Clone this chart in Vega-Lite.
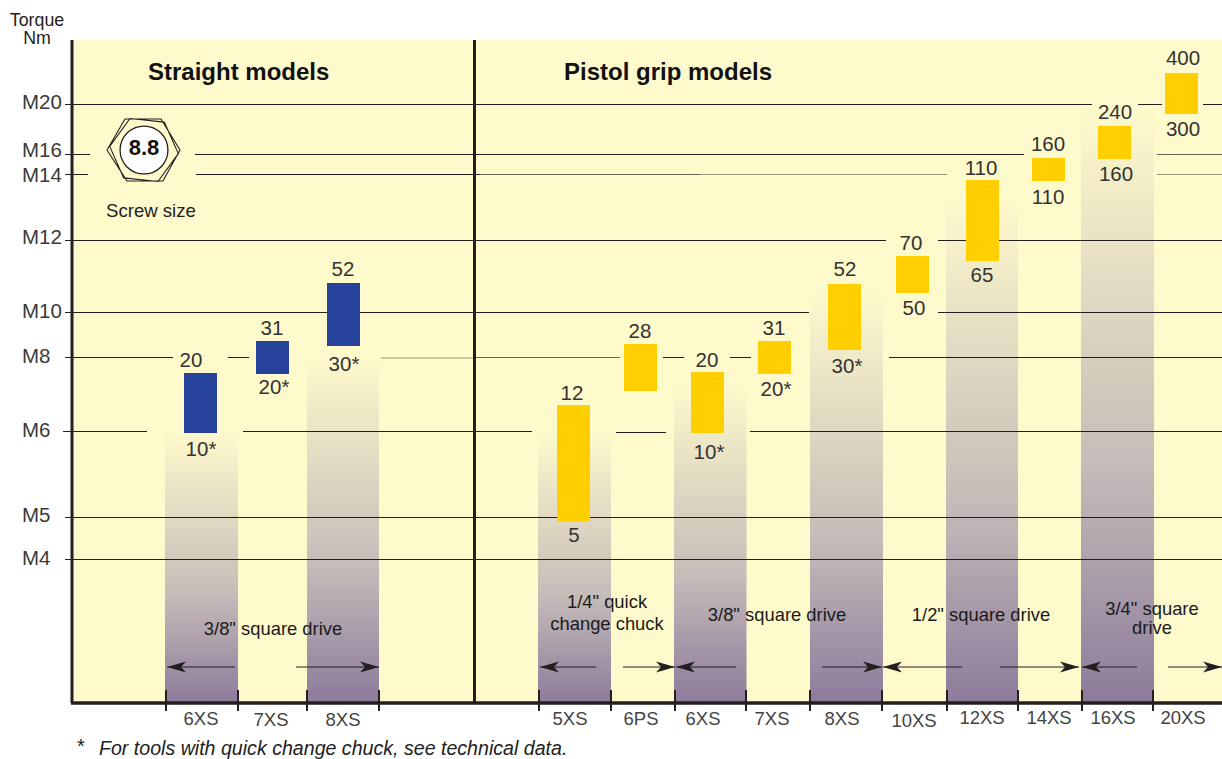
{
"$schema":"https://vega.github.io/schema/vega-lite/v6.json",
"width":1222,"height":759,"padding":0,"autosize":{"type":"none"},"background":"white",
"config":{"view":{"stroke":null},"text":{"font":"Liberation Sans"}},
"datasets":{
"panel":[{"x":73,"x2":1222,"y":0,"y2":663}],
"cols":[
{"tool":"6XS","x":165,"x2":238,"y":0,"y2":272},
{"tool":"8XS","x":307,"x2":379,"y":0,"y2":348},
{"tool":"5XS","x":538,"x2":611,"y":0,"y2":271},
{"tool":"6XS","x":674,"x2":746.5,"y":0,"y2":320},
{"tool":"8XS","x":810,"x2":883,"y":0,"y2":413},
{"tool":"12XS","x":946,"x2":1018,"y":0,"y2":508},
{"tool":"16XS","x":1081,"x2":1154,"y":0,"y2":596}],
"grid":[
{"size":"M20","tone":"dark","x":65,"x2":1092,"y":598.5},
{"size":"M20","tone":"dark","x":1138,"x2":1162,"y":598.5},
{"size":"M20","tone":"dark","x":1203,"x2":1222,"y":598.5},
{"size":"M16","tone":"dark","x":65,"x2":90,"y":548.5},
{"size":"M16","tone":"dark","x":195,"x2":1024,"y":548.5},
{"size":"M16","tone":"mid","x":1157,"x2":1222,"y":548.5},
{"size":"M14","tone":"dark","x":65,"x2":88,"y":528.5},
{"size":"M14","tone":"dark","x":196,"x2":480,"y":528.5},
{"size":"M14","tone":"mid","x":480,"x2":700,"y":528.5},
{"size":"M14","tone":"faded","x":700,"x2":947,"y":528.5},
{"size":"M14","tone":"faded","x":1157,"x2":1222,"y":528.5},
{"size":"M12","tone":"dark","x":65,"x2":886,"y":462.5},
{"size":"M12","tone":"dark","x":938,"x2":1222,"y":462.5},
{"size":"M10","tone":"dark","x":65,"x2":809,"y":390.5},
{"size":"M10","tone":"dark","x":938,"x2":1222,"y":390.5},
{"size":"M8","tone":"dark","x":65,"x2":173,"y":345.5},
{"size":"M8","tone":"dark","x":228,"x2":249,"y":345.5},
{"size":"M8","tone":"faded","x":381,"x2":474,"y":345},
{"size":"M8","tone":"mid","x":476,"x2":620,"y":345.5},
{"size":"M8","tone":"dark","x":663,"x2":684,"y":345.5},
{"size":"M8","tone":"dark","x":730,"x2":751,"y":345.5},
{"size":"M8","tone":"dark","x":889,"x2":1222,"y":345.5},
{"size":"M6","tone":"dark","x":63,"x2":147,"y":271.5},
{"size":"M6","tone":"dark","x":243,"x2":532,"y":271.5},
{"size":"M6","tone":"dark","x":616,"x2":666,"y":270.5},
{"size":"M6","tone":"dark","x":750,"x2":1222,"y":271.5},
{"size":"M5","tone":"dark","x":65,"x2":1222,"y":185.5},
{"size":"M4","tone":"dark","x":65,"x2":1222,"y":143.5}],
"frameV":[{"x":72,"y":0,"y2":663},{"x":474.5,"y":0,"y2":663}],
"frameH":[{"x":71,"x2":1222,"y":0}],
"seps":[{"x":166,"y":-8,"y2":13},{"x":238,"y":-8,"y2":13},{"x":307,"y":-8,"y2":13},{"x":379,"y":-8,"y2":13},{"x":539,"y":-8,"y2":13},{"x":611,"y":-8,"y2":13},{"x":675,"y":-8,"y2":13},{"x":746,"y":-8,"y2":13},{"x":810,"y":-8,"y2":13},{"x":882,"y":-8,"y2":13},{"x":947,"y":-8,"y2":13},{"x":1018,"y":-8,"y2":13},{"x":1082,"y":-8,"y2":13},{"x":1153,"y":-8,"y2":13}],
"bars":[
{"group":"Straight","tool":"6XS","x":184,"x2":217,"y":330,"y2":270},
{"group":"Straight","tool":"7XS","x":256,"x2":289,"y":362,"y2":329},
{"group":"Straight","tool":"8XS","x":327,"x2":360,"y":420,"y2":357},
{"group":"Pistol","tool":"5XS","x":557,"x2":590,"y":298,"y2":181.5},
{"group":"Pistol","tool":"6PS","x":624,"x2":657,"y":359,"y2":312},
{"group":"Pistol","tool":"6XS","x":691,"x2":724,"y":331,"y2":270},
{"group":"Pistol","tool":"7XS","x":758,"x2":791,"y":362,"y2":329},
{"group":"Pistol","tool":"8XS","x":828,"x2":861,"y":419,"y2":353},
{"group":"Pistol","tool":"10XS","x":896,"x2":929,"y":447,"y2":410},
{"group":"Pistol","tool":"12XS","x":966,"x2":999,"y":523,"y2":442},
{"group":"Pistol","tool":"14XS","x":1032,"x2":1065,"y":545,"y2":522},
{"group":"Pistol","tool":"16XS","x":1098,"x2":1131,"y":577,"y2":544},
{"group":"Pistol","tool":"20XS","x":1165,"x2":1198,"y":630,"y2":589}],
"values":[
{"t":"20","x":191,"y":343},{"t":"10*","x":201,"y":254},{"t":"31","x":272,"y":375},{"t":"20*","x":274,"y":316},{"t":"52","x":343,"y":434},{"t":"30*","x":344,"y":339},
{"t":"12","x":572,"y":310},{"t":"5","x":574,"y":168},{"t":"28","x":640,"y":372},{"t":"20","x":707,"y":343},{"t":"10*","x":709,"y":251},{"t":"31","x":774,"y":375},{"t":"20*","x":776,"y":314},{"t":"52","x":845,"y":434},{"t":"30*","x":847,"y":337},{"t":"70","x":911,"y":460},{"t":"50","x":914,"y":395},{"t":"110","x":981,"y":535},{"t":"65","x":982,"y":428},{"t":"160","x":1048,"y":559},{"t":"110","x":1048,"y":506},{"t":"240","x":1115,"y":591},{"t":"160","x":1116,"y":529},{"t":"400","x":1183,"y":645},{"t":"300","x":1183,"y":574}],
"sizes":[{"t":"M20","x":22,"y":600.5},{"t":"M16","x":22,"y":552},{"t":"M14","x":22,"y":527.5},{"t":"M12","x":22,"y":465},{"t":"M10","x":22,"y":391.5},{"t":"M8","x":22,"y":346},{"t":"M6","x":22,"y":272},{"t":"M5","x":22,"y":187.5},{"t":"M4","x":22,"y":144}],
"tools":[{"t":"6XS","x":201,"y":-16},{"t":"7XS","x":271,"y":-17},{"t":"8XS","x":343,"y":-17},{"t":"5XS","x":570,"y":-16},{"t":"6PS","x":641,"y":-16},{"t":"6XS","x":703,"y":-16},{"t":"7XS","x":772,"y":-16},{"t":"8XS","x":842,"y":-16},{"t":"10XS","x":914,"y":-18},{"t":"12XS","x":982,"y":-15},{"t":"14XS","x":1049,"y":-15},{"t":"16XS","x":1113,"y":-15},{"t":"20XS","x":1183,"y":-15}],
"drives":[{"t":"3/8\" square drive","x":273,"y":74},{"t":"3/8\" square drive","x":777,"y":88},{"t":"1/2\" square drive","x":981,"y":88},{"t":"1/4\" quick","x":607,"y":101},{"t":"change chuck","x":607,"y":79},{"t":"3/4\" square","x":1152,"y":94.5},{"t":"drive","x":1152,"y":75.5}],
"titles":[{"t":"Straight models","x":148,"y":631},{"t":"Pistol grip models","x":564,"y":631}],
"torque":[{"t":"Torque","x":37,"y":682.5},{"t":"Nm","x":37,"y":664.5}],
"arrows":[{"x":167,"x2":235,"y":36},{"x":296,"x2":379,"y":36},{"x":540,"x2":596,"y":36},{"x":623,"x2":675,"y":36},{"x":676,"x2":736,"y":36},{"x":822,"x2":882,"y":36},{"x":883,"x2":962,"y":36},{"x":1000,"x2":1079,"y":36},{"x":1082,"x2":1137,"y":36},{"x":1168,"x2":1222,"y":36}],
"heads":[{"dir":"left","x":167,"y":36},{"dir":"right","x":379,"y":36},{"dir":"left","x":540,"y":36},{"dir":"right","x":675,"y":36},{"dir":"left","x":676,"y":36},{"dir":"right","x":882,"y":36},{"dir":"left","x":883,"y":36},{"dir":"right","x":1079,"y":36},{"dir":"left","x":1082,"y":36},{"dir":"right","x":1222,"y":36}],
"bolt":[{"x":144,"y":553}],
"boltLabel":[{"t":"8.8","x":144,"y":555}],
"screw":[{"t":"Screw size","x":106,"y":492}],
"note":[{"t":"For tools with quick change chuck, see technical data.","x":99,"y":-45.5}],
"star":[{"t":"*","x":80,"y":-44}]
},
"encoding":{
"x":{"field":"x","type":"quantitative","axis":null,"scale":{"domain":[0,1222],"nice":false,"zero":false}},
"y":{"field":"y","type":"quantitative","axis":null,"scale":{"domain":[-56,703],"nice":false,"zero":false}}
},
"layer":[
{"data":{"name":"panel"},"mark":{"type":"rect","fill":"#FFFACC"},"encoding":{"x2":{"field":"x2"},"y2":{"field":"y2"}}},
{"data":{"name":"cols"},"mark":{"type":"rect","color":{"gradient":"linear","x1":0,"y1":0,"x2":0,"y2":1,"stops":[{"offset":0,"color":"#FFFACC"},{"offset":0.6,"color":"#C6BCB9"},{"offset":1,"color":"#8C7B9B"}]}},"encoding":{"x2":{"field":"x2"},"y2":{"field":"y2"}}},
{"data":{"name":"grid"},"mark":{"type":"rule"},"encoding":{"x2":{"field":"x2"},"color":{"field":"tone","type":"nominal","legend":null,"scale":{"domain":["dark","mid","faded"],"range":["#231F20","#6B6757","#9A9474"]}},"strokeWidth":{"field":"tone","type":"nominal","legend":null,"scale":{"domain":["dark","mid","faded"],"range":[1,1.2,1.6]}}}},
{"data":{"name":"frameV"},"mark":{"type":"rule","strokeWidth":3,"color":"#231F20"},"encoding":{"y2":{"field":"y2"}}},
{"data":{"name":"frameH"},"mark":{"type":"rule","strokeWidth":3.5,"color":"#231F20"},"encoding":{"x2":{"field":"x2"}}},
{"data":{"name":"seps"},"mark":{"type":"rule","strokeWidth":2,"color":"#231F20"},"encoding":{"y2":{"field":"y2"}}},
{"data":{"name":"bars"},"mark":{"type":"rect"},"encoding":{"x2":{"field":"x2"},"y2":{"field":"y2"},"fill":{"field":"group","type":"nominal","legend":null,"scale":{"domain":["Straight","Pistol"],"range":["#27429B","#FFCF01"]}}}},
{"data":{"name":"arrows"},"mark":{"type":"rule","strokeWidth":1,"color":"#231F20"},"encoding":{"x2":{"field":"x2"}}},
{"data":{"name":"heads"},"mark":{"type":"point","filled":true,"size":400,"opacity":1,"color":"#231F20"},"encoding":{"shape":{"field":"dir","type":"nominal","legend":null,"scale":{"domain":["left","right"],"range":["M0,0 L1.9,-0.55 L1.4,0 L1.9,0.55 Z","M0,0 L-1.9,-0.55 L-1.4,0 L-1.9,0.55 Z"]}}}},
{"data":{"name":"bolt"},"mark":{"type":"point","filled":false,"size":400,"opacity":1,"color":"#231F20","strokeWidth":1.1,"shape":"M-3.7,0 L-1.9,-3.1 L1.7,-3.1 L3.6,0 L1.9,3.1 L-1.7,3.1 Z M3.43,0.36 L1.4,3.15 L-2.03,2.79 L-3.43,-0.36 L-1.4,-3.15 L2.03,-2.79 Z"}},
{"data":{"name":"bolt"},"mark":{"type":"point","filled":true,"size":2290,"opacity":1,"shape":"circle","fill":"#FFFFFF","stroke":"#231F20","strokeWidth":1.3}},
{"data":{"name":"boltLabel"},"mark":{"type":"text","fontSize":22,"fontWeight":"bold","color":"#111111","align":"center","baseline":"middle"},"encoding":{"text":{"field":"t"}}},
{"data":{"name":"screw"},"mark":{"type":"text","fontSize":18.6,"color":"#222222","align":"left","baseline":"middle"},"encoding":{"text":{"field":"t"}}},
{"data":{"name":"values"},"mark":{"type":"text","fontSize":20.5,"dy":0.7,"color":"#333333","align":"center","baseline":"middle"},"encoding":{"text":{"field":"t"}}},
{"data":{"name":"sizes"},"mark":{"type":"text","fontSize":20.5,"color":"#3A3A3A","align":"left","baseline":"middle"},"encoding":{"text":{"field":"t"}}},
{"data":{"name":"tools"},"mark":{"type":"text","fontSize":18.5,"color":"#444444","align":"center","baseline":"middle"},"encoding":{"text":{"field":"t"}}},
{"data":{"name":"drives"},"mark":{"type":"text","fontSize":18.4,"color":"#1A1A1A","align":"center","baseline":"middle"},"encoding":{"text":{"field":"t"}}},
{"data":{"name":"titles"},"mark":{"type":"text","fontSize":24,"dy":1,"fontWeight":"bold","color":"#111111","align":"left","baseline":"middle"},"encoding":{"text":{"field":"t"}}},
{"data":{"name":"torque"},"mark":{"type":"text","fontSize":17.8,"color":"#222222","align":"center","baseline":"middle"},"encoding":{"text":{"field":"t"}}},
{"data":{"name":"note"},"mark":{"type":"text","fontSize":19.6,"fontStyle":"italic","color":"#222222","align":"left","baseline":"middle"},"encoding":{"text":{"field":"t"}}},
{"data":{"name":"star"},"mark":{"type":"text","fontSize":19.6,"fontStyle":"italic","color":"#222222","align":"center","baseline":"middle"},"encoding":{"text":{"field":"t"}}}
]
}
